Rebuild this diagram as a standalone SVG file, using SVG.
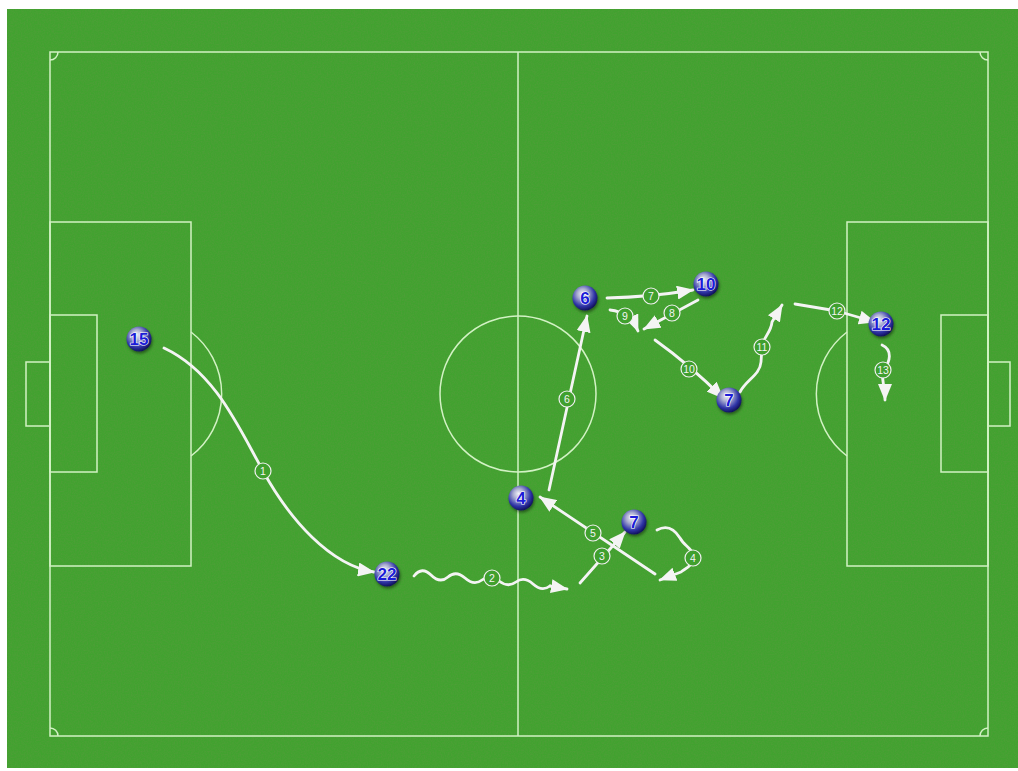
<svg xmlns="http://www.w3.org/2000/svg" width="1018" height="771" viewBox="0 0 1018 771">
<defs>
<filter id="grain" x="0" y="0" width="100%" height="100%">
<feTurbulence type="fractalNoise" baseFrequency="0.7" numOctaves="2" seed="4" result="n"/>
<feColorMatrix in="n" type="matrix" values="0 0 0 0 0.1  0 0 0 0 0.33  0 0 0 0 0.05  1.0 0 0 0 -0.33"/>
</filter>
<filter id="shadow" x="-50%" y="-50%" width="200%" height="200%">
<feDropShadow dx="1" dy="2" stdDeviation="1.5" flood-color="#000" flood-opacity="0.45"/>
</filter>
<radialGradient id="ball" cx="42%" cy="38%" r="62%" fx="40%" fy="32%">
<stop offset="0" stop-color="#f2f3f8"/>
<stop offset="0.35" stop-color="#a9acd0"/>
<stop offset="0.75" stop-color="#3035a8"/>
<stop offset="1" stop-color="#12125e"/>
</radialGradient>
<marker id="ah" markerUnits="userSpaceOnUse" markerWidth="18" markerHeight="14" refX="16" refY="7" orient="auto">
<path d="M0,0 L17,7 L0,14 z" fill="#f4f4f4"/>
</marker>
<style>
.line{fill:none;stroke:#d2f2c4;stroke-width:1.5}
.conn{fill:none;stroke:#f4f4f4;stroke-width:2.8;stroke-linecap:round;stroke-linejoin:round}
.arr{marker-end:url(#ah)}
.lbl circle{fill:#40a02e;stroke:#f0f0f0;stroke-width:1.2}
.lbl text{font-family:"Liberation Sans",Arial,sans-serif;font-size:10.5px;fill:#f4f4f4;text-anchor:middle;dominant-baseline:central}
.pl circle{fill:url(#ball);filter:url(#shadow)}
.pl text{font-family:"Liberation Sans",Arial,sans-serif;font-weight:bold;font-size:17px;fill:#1c1cd8;stroke:#ffffff;stroke-width:1.2;paint-order:stroke;text-anchor:middle;dominant-baseline:central}
</style>
</defs>

<rect x="0" y="0" width="1018" height="771" fill="#ffffff"/>
<g id="field">
<rect x="7" y="9" width="1011" height="759" fill="#41a22f"/>
<rect x="7" y="9" width="1011" height="759" filter="url(#grain)"/>
</g>

<g id="pitch-lines">
<rect class="line" x="50" y="52" width="938" height="684"/>
<line class="line" x1="518" y1="52" x2="518" y2="736"/>
<circle class="line" cx="518" cy="394" r="78"/>
<rect class="line" x="50" y="222" width="141" height="344"/>
<rect class="line" x="50" y="315" width="47" height="157"/>
<rect class="line" x="26" y="362" width="24" height="64"/>
<path class="line" d="M191,332 A78,78 0 0 1 191,456"/>
<rect class="line" x="847" y="222" width="141" height="344"/>
<rect class="line" x="941" y="315" width="47" height="157"/>
<rect class="line" x="988" y="362" width="22" height="64"/>
<path class="line" d="M847,332 A78,78 0 0 0 847,456"/>
<path class="line" d="M50,60 A8,8 0 0 0 58,52"/>
<path class="line" d="M980,52 A8,8 0 0 0 988,60"/>
<path class="line" d="M58,736 A8,8 0 0 0 50,728"/>
<path class="line" d="M988,728 A8,8 0 0 0 980,736"/>
</g>

<g id="connectors">
<path class="conn arr" d="M164,348 C215,372 238,426 263,471 C290,520 330,565 374,572"/>
<path class="conn" d="M414,576 Q422,566 431,575 T448,577 T465,578 T482,580 T499,581 T516,582 T533,584 T550,586"/>
<path class="conn arr" d="M550,586 L567,589"/>
<path class="conn arr" d="M580,583 L625,532"/>
<path class="conn arr" d="M657,530 C668,524 675,530 680,538 C684,546 693,548 693,557 C693,566 686,568 681,572 L660,580"/>
<path class="conn arr" d="M655,574 L540,497"/>
<path class="conn arr" d="M549,490 L587,316"/>
<path class="conn arr" d="M607,298 Q650,297 693,290"/>
<path class="conn arr" d="M698,300 L644,329"/>
<path class="conn arr" d="M610,310 Q630,312 638,331"/>
<path class="conn arr" d="M655,340 Q690,365 723,398"/>
<path class="conn arr" d="M740,392 C746,380 760,375 761,362 L762,347 C763,337 771,333 772,322 L782,305"/>
<path class="conn arr" d="M795,304 L837,311 L875,322"/>
<path class="conn arr" d="M882,345 C893,350 890,362 884,369 C880,376 885,385 885,400"/>

<g class="lbl"><circle cx="263" cy="471" r="8"/><text x="263" y="471">1</text></g>
<g class="lbl"><circle cx="492" cy="578" r="8"/><text x="492" y="578">2</text></g>
<g class="lbl"><circle cx="602" cy="556" r="8"/><text x="602" y="556">3</text></g>
<g class="lbl"><circle cx="693" cy="558" r="8"/><text x="693" y="558">4</text></g>
<g class="lbl"><circle cx="593" cy="533" r="8"/><text x="593" y="533">5</text></g>
<g class="lbl"><circle cx="567" cy="399" r="8"/><text x="567" y="399">6</text></g>
<g class="lbl"><circle cx="651" cy="296" r="8"/><text x="651" y="296">7</text></g>
<g class="lbl"><circle cx="672" cy="313" r="8"/><text x="672" y="313">8</text></g>
<g class="lbl"><circle cx="625" cy="316" r="8"/><text x="625" y="316">9</text></g>
<g class="lbl"><circle cx="689" cy="369" r="8"/><text x="689" y="369">10</text></g>
<g class="lbl"><circle cx="762" cy="347" r="8"/><text x="762" y="347">11</text></g>
<g class="lbl"><circle cx="837" cy="311" r="8"/><text x="837" y="311">12</text></g>
<g class="lbl"><circle cx="883" cy="370" r="8"/><text x="883" y="370">13</text></g>
</g>

<g id="player-15" class="pl"><circle cx="139" cy="339" r="12.5"/><text x="139" y="339">15</text></g>
<g id="player-22" class="pl"><circle cx="387" cy="574" r="12.5"/><text x="387" y="574">22</text></g>
<g id="player-4" class="pl"><circle cx="521" cy="498" r="12.5"/><text x="521" y="498">4</text></g>
<g id="player-7a" class="pl"><circle cx="634" cy="522" r="12.5"/><text x="634" y="522">7</text></g>
<g id="player-6" class="pl"><circle cx="585" cy="298" r="12.5"/><text x="585" y="298">6</text></g>
<g id="player-10" class="pl"><circle cx="706" cy="284" r="12.5"/><text x="706" y="284">10</text></g>
<g id="player-7b" class="pl"><circle cx="729" cy="400" r="12.5"/><text x="729" y="400">7</text></g>
<g id="player-12" class="pl"><circle cx="881" cy="324" r="12.5"/><text x="881" y="324">12</text></g>
</svg>
